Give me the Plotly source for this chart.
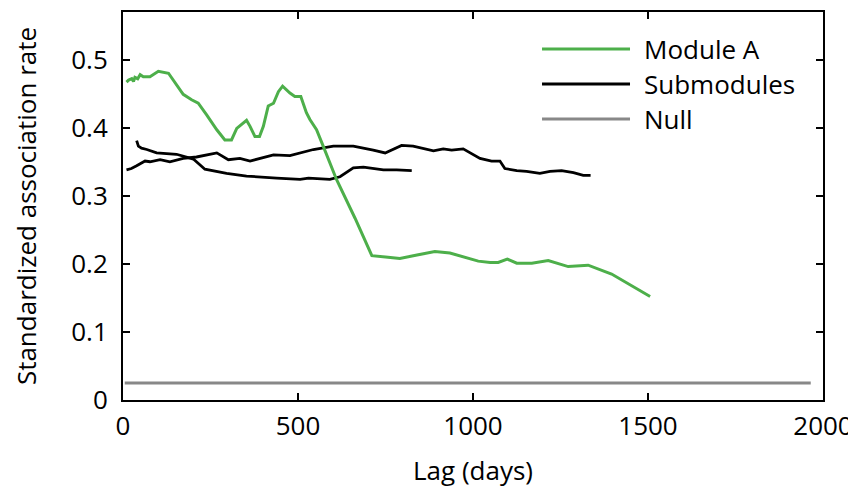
import plotly.graph_objects as go

# Module A (green)
module_a_x = [10, 16, 25, 30, 34, 42, 49, 58, 77, 88, 101, 130, 153, 172, 196, 215, 239, 268, 291, 310, 325,
              353, 363, 377, 390, 401, 415, 430, 444, 456, 477, 491, 508, 524, 534, 553, 572,
              591, 610, 663, 711, 750, 791, 840, 891, 934, 975, 1015, 1049, 1072, 1098, 1125,
              1168, 1215, 1272, 1329, 1396, 1506]
module_a_y = [0.467, 0.470, 0.472, 0.468, 0.474, 0.472, 0.478, 0.475, 0.475, 0.479, 0.483, 0.480, 0.463, 0.449, 0.441, 0.436,
              0.419, 0.397, 0.382, 0.382, 0.399, 0.411, 0.402, 0.387, 0.387, 0.402, 0.432, 0.436,
              0.453, 0.461, 0.451, 0.446, 0.446, 0.422, 0.412, 0.397, 0.373, 0.348, 0.324, 0.267,
              0.212, 0.210, 0.208, 0.213, 0.218, 0.216, 0.210, 0.204, 0.202, 0.202, 0.207, 0.201,
              0.201, 0.205, 0.196, 0.198, 0.185, 0.152]

# Submodule 1 (black, shorter)
sub1_x = [39, 44, 53, 68, 96, 153, 201, 234, 296, 353, 439, 506, 530, 563, 591, 620, 658, 687,
          744, 782, 825]
sub1_y = [0.381, 0.373, 0.370, 0.368, 0.363, 0.361, 0.354, 0.339, 0.333, 0.329, 0.326, 0.324,
          0.326, 0.325, 0.324, 0.328, 0.341, 0.342, 0.338, 0.338, 0.337]

# Submodule 2 (black, longer)
sub2_x = [10, 24, 39, 63, 77, 106, 134, 172, 210, 268, 301, 334, 363, 430, 477, 544, 601, 658,
          715, 749, 796, 829, 887, 915, 939, 972, 1020, 1053, 1077, 1091, 1125, 1153, 1191, 1220,
          1253, 1287, 1315, 1336]
sub2_y = [0.338, 0.340, 0.344, 0.351, 0.350, 0.353, 0.350, 0.355, 0.357, 0.363, 0.353, 0.355,
          0.351, 0.360, 0.359, 0.368, 0.373, 0.373, 0.367, 0.363, 0.374, 0.373, 0.366, 0.369,
          0.367, 0.369, 0.355, 0.351, 0.351, 0.340, 0.337, 0.336, 0.333, 0.336, 0.337, 0.334,
          0.330, 0.330]

# Null
null_x = [5, 1965]
null_y = [0.025, 0.025]

x_ticks = [0, 500, 1000, 1500, 2000]
y_ticks = [0, 0.1, 0.2, 0.3, 0.4, 0.5]
y_tick_text = ["0", "0.1", "0.2", "0.3", "0.4", "0.5"]

legend_names = ["Module A", "Submodules", "Null"]
GREEN = "#4daf4a"
BLACK = "#000000"
GRAY = "#888888"
legend_colors = [GREEN, BLACK, GRAY]

FONT = "Open Sans"
FS = 26

fig = go.Figure()
fig.add_trace(go.Scatter(x=null_x, y=null_y, mode="lines", line=dict(color=GRAY, width=3),
                         name="Null", showlegend=False))
fig.add_trace(go.Scatter(x=sub1_x, y=sub1_y, mode="lines", line=dict(color=BLACK, width=2.8),
                         name="Submodules", showlegend=False))
fig.add_trace(go.Scatter(x=sub2_x, y=sub2_y, mode="lines", line=dict(color=BLACK, width=2.8),
                         name="Submodules", showlegend=False))
fig.add_trace(go.Scatter(x=module_a_x, y=module_a_y, mode="lines", line=dict(color=GREEN, width=3),
                         name="Module A", showlegend=False))

# manual legend (long line samples like the original)
rows_y = [0.9046, 0.8144, 0.7242]
for name, col, yy in zip(legend_names, legend_colors, rows_y):
    fig.add_shape(type="line", xref="paper", yref="paper", x0=0.5986, x1=0.7243, y0=yy, y1=yy,
                  line=dict(color=col, width=3))
    fig.add_annotation(xref="paper", yref="paper", x=0.7414, y=yy, text=name, showarrow=False,
                       xanchor="left", yanchor="middle",
                       font=dict(family=FONT, size=FS, color="black"))

axis_common = dict(showline=True, linecolor="black", linewidth=2, mirror="ticks",
                   ticks="inside", ticklen=7, tickwidth=1.5, tickcolor="black",
                   showgrid=False, zeroline=False, automargin=False,
                   tickfont=dict(family=FONT, size=FS, color="black"))

fig.update_layout(
    width=848, height=490,
    margin=dict(l=115, r=33, t=4, b=98),
    paper_bgcolor="white", plot_bgcolor="white",
    showlegend=False,
    xaxis=dict(range=[0, 2000], tickvals=x_ticks, ticktext=[str(v) for v in x_ticks],
               ticklabelstandoff=2,
               title=dict(text="Lag (days)", font=dict(family=FONT, size=FS, color="black"),
                          standoff=20),
               **axis_common),
    yaxis=dict(range=[0, 0.57], tickvals=y_ticks, ticktext=y_tick_text,
               ticklabelstandoff=8,
               title=dict(text="Standardized association rate",
                          font=dict(family=FONT, size=FS, color="black"), standoff=30),
               **axis_common),
)

fig.write_html("out.html")
